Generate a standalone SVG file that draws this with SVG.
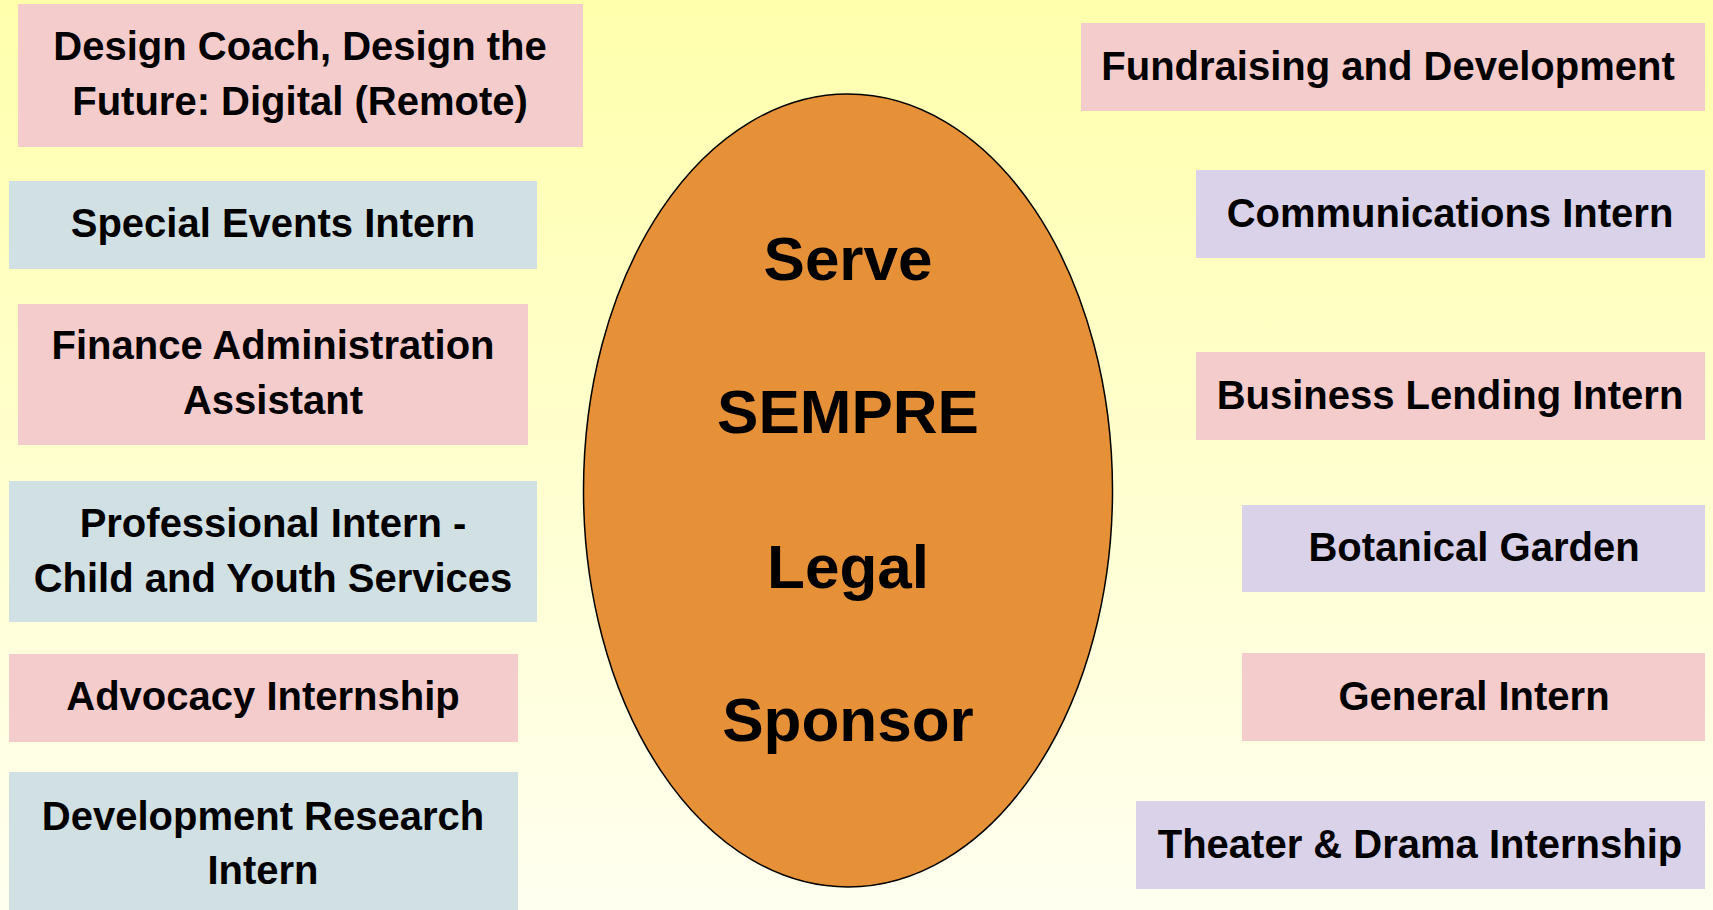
<svg xmlns="http://www.w3.org/2000/svg" width="1713" height="910" viewBox="0 0 1713 910">
<defs>
<linearGradient id="bg" x1="0" y1="0" x2="0" y2="1">
<stop offset="0" stop-color="#FFFFAC"/>
<stop offset="1" stop-color="#FFFFF0"/>
</linearGradient>
<style>
.pink{fill:#F4CCCC}
.blue{fill:#D0E0E3}
.lav{fill:#D9D2E9}
.t{font-family:"Liberation Sans",Arial,sans-serif;font-weight:bold;font-size:40px;fill:#000;text-anchor:middle}
.c{font-family:"Liberation Sans",Arial,sans-serif;font-weight:bold;font-size:62px;fill:#000;text-anchor:middle}
</style>
</defs>
<rect x="0" y="0" width="1713" height="910" fill="url(#bg)"/>
<g id="connectors"></g>
<g id="center">
<ellipse cx="848" cy="490.5" rx="264.5" ry="396.5" fill="#E69138" stroke="#000" stroke-width="1.5"/>
<text class="c" x="848" y="280">Serve</text>
<text class="c" x="848" y="433">SEMPRE</text>
<text class="c" x="848" y="588">Legal</text>
<text class="c" x="848" y="741">Sponsor</text>
</g>
<g id="design-coach">
<rect class="pink" x="18" y="4" width="565" height="143"/>
<text class="t" x="300" y="60">Design Coach, Design the</text>
<text class="t" x="300" y="115">Future: Digital (Remote)</text>
</g>
<g id="special-events">
<rect class="blue" x="9" y="181" width="528" height="88"/>
<text class="t" x="273" y="237">Special Events Intern</text>
</g>
<g id="finance">
<rect class="pink" x="18" y="304" width="510" height="141"/>
<text class="t" x="273" y="359">Finance Administration</text>
<text class="t" x="273" y="414">Assistant</text>
</g>
<g id="professional">
<rect class="blue" x="9" y="481" width="528" height="141"/>
<text class="t" x="273" y="537">Professional Intern -</text>
<text class="t" x="273" y="592">Child and Youth Services</text>
</g>
<g id="advocacy">
<rect class="pink" x="9" y="654" width="509" height="88"/>
<text class="t" x="263" y="710">Advocacy Internship</text>
</g>
<g id="dev-research">
<rect class="blue" x="9" y="772" width="509" height="138"/>
<text class="t" x="263" y="830">Development Research</text>
<text class="t" x="263" y="884">Intern</text>
</g>
<g id="fundraising">
<rect class="pink" x="1081" y="23" width="624" height="88"/>
<text class="t" x="1388" y="80">Fundraising and Development</text>
</g>
<g id="communications">
<rect class="lav" x="1196" y="170" width="509" height="88"/>
<text class="t" x="1450" y="227">Communications Intern</text>
</g>
<g id="business-lending">
<rect class="pink" x="1196" y="352" width="509" height="88"/>
<text class="t" x="1450" y="409">Business Lending Intern</text>
</g>
<g id="botanical">
<rect class="lav" x="1242" y="505" width="463" height="87"/>
<text class="t" x="1474" y="561">Botanical Garden</text>
</g>
<g id="general">
<rect class="pink" x="1242" y="653" width="463" height="88"/>
<text class="t" x="1474" y="710">General Intern</text>
</g>
<g id="theater">
<rect class="lav" x="1136" y="801" width="569" height="88"/>
<text class="t" x="1420" y="858">Theater &amp; Drama Internship</text>
</g>
</svg>
